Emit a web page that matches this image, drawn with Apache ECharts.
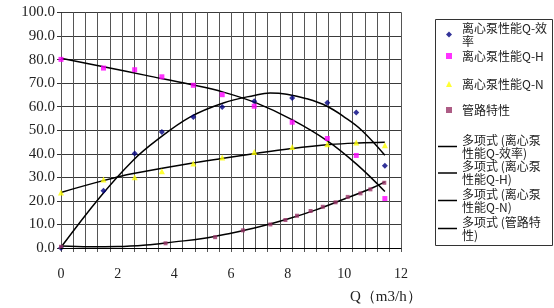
<!DOCTYPE html>
<html>
<head>
<meta charset="utf-8">
<script src="https://cdn.jsdelivr.net/npm/echarts@6/dist/echarts.min.js"></script>
<style>html,body{margin:0;padding:0;background:#fff}#c{width:554px;height:308px}</style>
</head>
<body>
<div id="c"></div>
<script>
// ---- data ----
const pumpQ   = [0, 1.5, 2.6, 3.56, 4.67, 5.69, 6.82, 8.16, 9.4, 10.42, 11.43];
const effVals = [0, 24.3, 40.1, 49.3, 55.6, 59.9, 62.3, 63.7, 61.7, 57.5, 34.9];
const headVals = [80.1, 76.4, 75.7, 72.7, 69.1, 65.1, 60.2, 53.4, 46.5, 39.3, 21.0];
const powerVals = [23.6, 29.1, 30.0, 32.6, 35.9, 38.4, 40.8, 42.9, 44.1, 44.8, 43.6];

const pipeQ    = [0, 3.69, 5.44, 6.42, 7.39, 7.92, 8.33, 8.81, 9.24, 9.69, 10.12, 10.57, 10.92, 11.41];
const pipeVals = [0.5, 2.0, 4.6, 7.5, 10.0, 11.9, 13.7, 15.7, 17.5, 19.4, 21.7, 23.2, 24.9, 27.7];

// trendline curves
const effFitQ = [0, 1.38, 2.55, 3.38, 4.55, 5.73, 6.82, 7.38, 7.97, 8.67, 9.39, 10.0, 10.61, 11.43];
const effFitV = [0.3, 21.7, 37.3, 45.8, 55.6, 61.6, 64.8, 65.8, 65.3, 63.4, 60.2, 55.6, 50.0, 39.4];
const headFitQ = [0, 1.5, 3.0, 4.55, 5.73, 6.91, 8.15, 9.4, 10.44, 11.43];
const headFitV = [80.6, 77.0, 73.3, 69.5, 66.2, 61.5, 54.5, 45.5, 35.5, 24.0];
const powerFitQ = [0, 1.49, 2.55, 4.55, 5.73, 6.91, 8.08, 9.49, 10.5, 11.43];
const powerFitV = [23.6, 28.6, 31.6, 35.9, 38.1, 40.2, 42.1, 43.9, 44.6, 44.9];
const pipeFitQ = [0, 1.0, 2.0, 3.0, 4.0, 5.0, 6.0, 7.0, 8.0, 9.0, 10.0, 11.0, 11.43];
const pipeFitV = [0.8, 0.5, 0.6, 1.3, 2.6, 4.0, 6.3, 9.0, 12.3, 16.2, 20.8, 25.6, 28.1];

const xTicks = [0, 2, 4, 6, 8, 10, 12];
const yTicks = [0, 10, 20, 30, 40, 50, 60, 70, 80, 90, 100];
const xMinorCount = 28; // vertical grid lines across the x range

const names = {
  eff: '离心泵性能Q-效率',
  head: '离心泵性能Q-H',
  power: '离心泵性能Q-N',
  pipe: '管路特性',
  effFit: '多项式 (离心泵性能Q-效率)',
  headFit: '多项式 (离心泵性能Q-H)',
  powerFit: '多项式 (离心泵性能Q-N)',
  pipeFit: '多项式 (管路特性)'
};
const legendLabels = {
  eff: '离心泵性能Q-效\n率',
  head: '离心泵性能Q-H',
  power: '离心泵性能Q-N',
  pipe: '管路特性',
  effFit: '多项式 (离心泵\n性能Q-效率)',
  headFit: '多项式 (离心泵\n性能Q-H)',
  powerFit: '多项式 (离心泵\n性能Q-N)',
  pipeFit: '多项式 (管路特\n性)'
};

const zip = (a, b) => a.map((v, i) => [v, b[i]]);

const legendLayout = [
  ['eff', 34.5, 2, true], ['head', 56, 1, true], ['power', 84, 1, true], ['pipe', 110, 1, true],
  ['effFit', 146.5, 2, false], ['headFit', 173, 2, false], ['powerFit', 200.5, 2, false], ['pipeFit', 228.5, 2, false]
];

const chart = echarts.init(document.getElementById('c'), null, {renderer: 'canvas'});
const serif = '"Liberation Serif", "DejaVu Serif", serif';
const cjk = '"Noto Sans CJK SC", sans-serif';

const xMin = xTicks[0], xMax = xTicks[xTicks.length - 1];
const yMin = yTicks[0], yMax = yTicks[yTicks.length - 1];
const minorStep = (xMax - xMin) / xMinorCount;
const minorXs = Array.from({length: xMinorCount + 1}, (_, k) => xMin + k * minorStep);

const legendBox = {
  type: 'rect', left: 435, top: 19, z: -1,
  shape: {width: 117, height: 226},
  style: {fill: '#fff', stroke: '#333', lineWidth: 1}
};

const option = {
  animation: false,
  backgroundColor: '#fff',
  grid: {left: 61, right: 153, top: 12.5, bottom: 60, containLabel: false},
  xAxis: {
    type: 'value', min: xMin, max: xMax, interval: 2,
    axisLine: {show: true, onZero: false, lineStyle: {color: '#000', width: 1}},
    axisTick: {show: false},
    splitLine: {show: false},
    axisLabel: {color: '#222', fontFamily: serif, fontSize: 14, margin: 19},
    name: 'Q（m3/h）', nameLocation: 'end', nameGap: -51,
    nameTextStyle: {color: '#222', fontFamily: serif, fontSize: 15, verticalAlign: 'top', align: 'left', padding: [42, 0, 0, 0]},
    z: 5
  },
  yAxis: {
    type: 'value', min: yMin, max: yMax, interval: 10,
    axisLine: {show: true, lineStyle: {color: '#000'}},
    axisTick: {show: true, length: 4, lineStyle: {color: '#333'}},
    splitLine: {show: true, lineStyle: {color: '#3a3a3a', width: 1}},
    axisLabel: {color: '#222', fontFamily: serif, fontSize: 15, margin: 6, formatter: v => v.toFixed(1)}
  },
  legend: legendLayout.map(([key, center, lines, isSym]) => ({
    data: [isSym ? names[key] : {name: names[key], icon: 'rect'}],
    orient: 'vertical',
    left: isSym ? 446 : 438,
    top: center - lines * 13 / 2,
    padding: 0,
    itemGap: 0,
    itemWidth: isSym ? 6 : 19,
    itemHeight: isSym ? 6 : 1.5,
    selectedMode: false,
    formatter: () => legendLabels[key],
    itemStyle: isSym ? {} : {color: '#000', borderWidth: 0},
    textStyle: {fontFamily: cjk, fontSize: 12, lineHeight: 13, color: '#222', padding: isSym ? [0, 0, 0, 5] : 0}
  })),
  graphic: [legendBox],
  series: [
    {
      type: 'custom', name: 'vgrid', silent: true, z: 1, clip: false,
      data: minorXs.map(x => [x, yMin, yMax]),
      dimensions: ['x', 'y0', 'y1'],
      encode: {x: 0, y: [1, 2]},
      renderItem: (params, api) => {
        const x = api.value(0);
        const top = api.coord([x, api.value(2)]);
        const bot = api.coord([x, api.value(1)]);
        const px = Math.round(top[0]);
        return {
          type: 'rect', shape: {x: px, y: top[1], width: 1, height: bot[1] - top[1] + 4},
          style: {fill: '#555'}
        };
      }
    },
    {name: names.pipeFit, type: 'line', smooth: 0.4, showSymbol: false, symbol: 'none',
     data: zip(pipeFitQ, pipeFitV), lineStyle: {color: '#000', width: 1.5}, itemStyle: {color: '#000'}, z: 3},
    {name: names.effFit, type: 'line', smooth: 0.4, showSymbol: false, symbol: 'none',
     data: zip(effFitQ, effFitV), lineStyle: {color: '#000', width: 1.5}, itemStyle: {color: '#000'}, z: 3},
    {name: names.headFit, type: 'line', smooth: 0.4, showSymbol: false, symbol: 'none',
     data: zip(headFitQ, headFitV), lineStyle: {color: '#000', width: 1.5}, itemStyle: {color: '#000'}, z: 3},
    {name: names.powerFit, type: 'line', smooth: 0.4, showSymbol: false, symbol: 'none',
     data: zip(powerFitQ, powerFitV), lineStyle: {color: '#000', width: 1.5}, itemStyle: {color: '#000'}, z: 3},
    {name: names.eff, type: 'scatter', symbol: 'diamond', symbolSize: 6,
     data: zip(pumpQ, effVals), itemStyle: {color: '#000080'}, z: 4},
    {name: names.head, type: 'scatter', symbol: 'rect', symbolSize: 5,
     data: zip(pumpQ, headVals), itemStyle: {color: '#ff00ff'}, z: 4},
    {name: names.power, type: 'scatter', symbol: 'triangle', symbolSize: 6,
     data: zip(pumpQ, powerVals), itemStyle: {color: '#ffff00'}, z: 4},
    {name: names.pipe, type: 'scatter', symbol: 'rect', symbolSize: 4,
     data: zip(pipeQ, pipeVals), itemStyle: {color: '#993366'}, z: 4}
  ]
};
chart.setOption(option);

// vertical grid lines placed through the chart's own x/y scales
const gridLines = minorXs.map(x => {
  const top = chart.convertToPixel({xAxisIndex: 0, yAxisIndex: 0}, [x, yMax]);
  const bot = chart.convertToPixel({xAxisIndex: 0, yAxisIndex: 0}, [x, yMin]);
  const px = Math.round(top[0]) + 0.5;
  return {
    type: 'line', silent: true, z: 0,
    shape: {x1: px, y1: top[1], x2: px, y2: bot[1] + 4},
    style: {stroke: '#555', lineWidth: 1}
  };
});
chart.setOption({graphic: [legendBox].concat(gridLines)}, {replaceMerge: ['graphic']});
</script>
</body>
</html>
